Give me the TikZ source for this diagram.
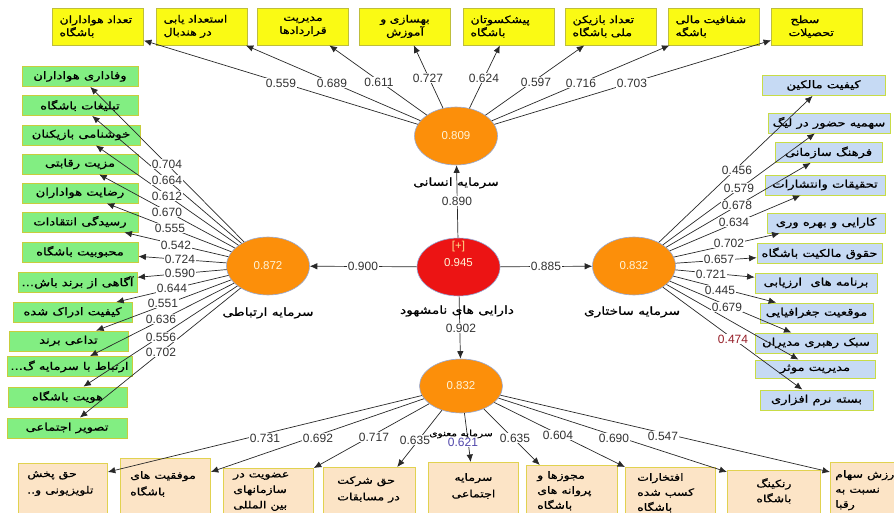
\documentclass[tikz,border=0pt]{standalone}
\usepackage{fontspec}
\setmainfont{Liberation Sans}
\newfontfamily\fa[Script=Arabic,FakeStretch=1.25,FakeBold=0.8]{DejaVu Sans}
\TeXXeTstate=1
\usetikzlibrary{arrows.meta,calc,shapes.geometric}
\newcommand\fatx[1]{\beginR #1\endR}
\definecolor{yfill}{RGB}{250,250,20}
\definecolor{yline}{RGB}{190,190,60}
\definecolor{gfill}{RGB}{130,238,130}
\definecolor{gline}{RGB}{200,205,60}
\definecolor{bfill}{RGB}{198,218,244}
\definecolor{bline}{RGB}{200,220,70}
\definecolor{pfill}{RGB}{252,228,198}
\definecolor{pline}{RGB}{225,210,80}
\definecolor{orng}{RGB}{252,143,10}
\definecolor{redd}{RGB}{236,20,20}
\definecolor{eline}{RGB}{150,170,215}
\definecolor{lcol}{RGB}{40,40,40}
\definecolor{numc}{RGB}{50,50,50}
\definecolor{evt}{RGB}{255,244,215}
\definecolor{plus}{RGB}{255,225,140}
\definecolor{blu}{RGB}{80,70,170}
\definecolor{dred}{RGB}{150,30,40}
\begin{document}
\begin{tikzpicture}[x=1pt,y=-1pt,
  yb/.style={draw=yline, fill=yfill, line width=0.8pt, minimum height=37pt,
    text width=77pt, inner xsep=7pt, inner ysep=0pt, align=left,
    font=\fa\fontsize{10}{13}\selectfont},
  gb/.style={draw=gline, fill=gfill, line width=0.8pt, minimum height=20pt,
    inner sep=0pt, font=\fa\fontsize{10.5}{11}\selectfont},
  bb/.style={draw=bline, fill=bfill, line width=0.8pt, minimum height=20pt,
    inner sep=0pt, font=\fa\fontsize{10.5}{11}\selectfont},
  pb/.style={draw=pline, fill=pfill, line width=0.8pt, minimum width=90pt,
    minimum height=75pt, anchor=north west, inner sep=0pt},
  ptx/.style={font=\fa\fontsize{10}{16.5}\selectfont, inner sep=0pt,
    align=left, anchor=north west},
  lv/.style={ellipse, draw=eline, line width=0.6pt, fill=orng,
    minimum width=83pt, minimum height=58pt, inner sep=0pt, text=evt,
    font=\fontsize{11.5}{13}\selectfont},
  ltx/.style={inner sep=0pt, font=\fontsize{11.5}{13}\selectfont},
  conn/.style={draw=lcol, line width=0.7pt, -{Latex[length=7.5pt,width=6.5pt]}},
  num/.style={fill=white, inner sep=0.6pt, text=numc,
    font=\fontsize{12}{13}\selectfont},
  capt/.style={font=\fa\fontsize{11}{12}\selectfont, inner sep=0pt}]
\useasboundingbox (0,0) rectangle (894,513);
\clip (0,0) rectangle (894,513);

% ---------- top indicators
\node[yb] (t1) at (98,26.5) {\fatx{تعداد هواداران}\\\fatx{باشگاه}};
\node[yb] (t2) at (202,26.5) {\fatx{استعداد یابی}\\\fatx{در هندبال}};
\node[yb,align=center] (t3) at (303,26.5) {\fatx{مدیریت}\\\fatx{قراردادها}};
\node[yb,align=center] (t4) at (405,26.5) {\fatx{بهسازی و}\\\fatx{آموزش}};
\node[yb] (t5) at (509,26.5) {\fatx{پیشکسوتان}\\\fatx{باشگاه}};
\node[yb] (t6) at (611,26.5) {\fatx{تعداد بازیکن}\\\fatx{ملی باشگاه}};
\node[yb] (t7) at (714,26.5) {\fatx{شفافیت مالی}\\\fatx{باشگه}};
\node[yb] (t8) at (817,26.5) {\hspace*{12pt}\fatx{سطح}\\\hspace*{10pt}\fatx{تحصیلات}};

% ---------- left indicators
\node[gb,minimum width=116pt] (g1) at (80,76.5) {\fatx{وفاداری هواداران}};
\node[gb,minimum width=116pt] (g2) at (80,105.5) {\fatx{تبلیغات باشگاه}};
\node[gb,minimum width=118pt] (g3) at (81,135) {\fatx{خوشنامی بازیکنان}};
\node[gb,minimum width=116pt] (g4) at (80,164) {\fatx{مزیت رقابتی}};
\node[gb,minimum width=116pt] (g5) at (80,193) {\fatx{رضایت هواداران}};
\node[gb,minimum width=116pt] (g6) at (80,222) {\fatx{رسیدگی انتقادات}};
\node[gb,minimum width=116pt] (g7) at (80,252) {\fatx{محبوبیت باشگاه}};
\node[gb,minimum width=119pt] (g8) at (77.5,282.5) {...\fatx{آگاهی از برند باش}};
\node[gb,minimum width=119pt] (g9) at (72.5,312.5) {\fatx{کیفیت ادراک شده}};
\node[gb,minimum width=119pt] (g10) at (68.5,341) {\fatx{تداعی برند}};
\node[gb,minimum width=125pt] (g11) at (69.5,366.5) {...\fatx{ارتباط با سرمایه گ}};
\node[gb,minimum width=119pt] (g12) at (67.5,397) {\fatx{هویت باشگاه}};
\node[gb,minimum width=120pt] (g13) at (67,428) {\fatx{تصویر اجتماعی}};

% ---------- right indicators
\node[bb,minimum width=123pt] (b1) at (823.5,85.5) {\fatx{کیفیت مالکین}};
\node[bb,minimum width=122pt] (b2) at (829,123) {\fatx{سهمیه حضور در لیگ}};
\node[bb,minimum width=107pt] (b3) at (828.5,152.5) {\fatx{فرهنگ سازمانی}};
\node[bb,minimum width=120pt] (b4) at (825,185) {\fatx{تحقیقات وانتشارات}};
\node[bb,minimum width=118pt] (b5) at (826,223) {\fatx{کارایی و بهره وری}};
\node[bb,minimum width=125pt] (b6) at (819.5,253.5) {\fatx{حقوق مالکیت باشگاه}};
\node[bb,minimum width=122pt] (b7) at (816,283) {\fatx{برنامه های\ \ ارزیابی}};
\node[bb,minimum width=113pt] (b8) at (816.5,313) {\fatx{موقعیت جغرافیایی}};
\node[bb,minimum width=122pt] (b9) at (816,343) {\fatx{سبک رهبری مدیران}};
\node[bb,minimum width=120pt,minimum height=18pt] (b10) at (815,369) {\fatx{مدیریت موثر}};
\node[bb,minimum width=113pt] (b11) at (816.5,400) {\fatx{بسته نرم افزاری}};

% ---------- bottom indicators
\node[pb,minimum width=89pt] (p1) at (18,463) {};
\node[pb] (p2) at (120,458) {};
\node[pb] (p3) at (223,468) {};
\node[pb,minimum width=92pt] (p4) at (323,467) {};
\node[pb] (p5) at (428,462) {};
\node[pb,minimum width=91pt] (p6) at (526,465) {};
\node[pb] (p7) at (625,467) {};
\node[pb,minimum width=93pt] (p8) at (727,470) {};
\node[pb] (p9) at (830,462) {};
\node[ptx] (p1t) at ($(p1.north west)+(9,8)$) {\fatx{حق پخش}\\..\fatx{تلویزیونی و}};
\node[ptx] (p2t) at ($(p2.north west)+(10,13)$) {\fatx{موفقیت های}\\\fatx{باشگاه}};
\node[ptx,font=\fa\fontsize{10}{15.5}\selectfont] (p3t) at ($(p3.north west)+(10,4)$) {\fatx{عضویت در}\\\fatx{سازمانهای}\\\fatx{بین المللی}};
\node[ptx] (p4t) at ($(p4.north west)+(14,9)$) {\fatx{حق شرکت}\\\fatx{در مسابقات}};
\node[ptx,anchor=north,align=center] (p5t) at ($(p5.north)+(0,11)$) {\fatx{سرمایه}\\\fatx{اجتماعی}};
\node[ptx,font=\fa\fontsize{10}{15}\selectfont] (p6t) at ($(p6.north west)+(11,6)$) {\fatx{مجوزها و}\\\fatx{پروانه های}\\\fatx{باشگاه}};
\node[ptx,font=\fa\fontsize{10}{15}\selectfont] (p7t) at ($(p7.north west)+(12,6)$) {\fatx{افتخارات}\\\fatx{کسب شده}\\\fatx{باشگاه}};
\node[ptx,anchor=north,align=center,font=\fa\fontsize{10}{15}\selectfont] (p8t) at ($(p8.north)+(0,8)$) {\fatx{رنکینگ}\\\fatx{باشگاه}};
\node[ptx,font=\fa\fontsize{10}{15}\selectfont] (p9t) at ($(p9.north west)+(5,8)$) {\fatx{رزش سهام}\\\fatx{نسبت به}\\\fatx{رقبا}};

% ---------- latent variables
\node[lv] (T) at (456,136) {0.809};
\node[lv] (L) at (268,266) {0.872};
\node[lv] (R) at (634,266) {0.832};
\node[lv,minimum height=54pt] (B) at (461,386) {0.832};
\node[lv,fill=redd] (C) at (458.5,267) {};
\node[ltx,text=plus] (Cp) at ($(C)+(0,-20)$) {[+]};
\node[ltx,text=evt] (Cv) at ($(C)+(0,-4)$) {0.945};

% ---------- structural paths
\draw[conn] (C) -- (T);
\draw[conn] (C) -- (L);
\draw[conn] (C) -- (R);
\draw[conn] (C) -- (B);

% ---------- outer loadings
\foreach \i in {1,...,8} \draw[conn] (T) -- (t\i);
\foreach \i in {1,...,13} \draw[conn] (L) -- (g\i);
\foreach \i in {1,...,11} \draw[conn] (R) -- (b\i);
\draw[conn] (B) -- ($(p1.north east)+(0,9)$);
\draw[conn] (B) -- ($(p2.north east)+(0,14)$);
\draw[conn] (B) -- (p3.north east);
\draw[conn] (B) -- ($(p4.north west)!0.8!(p4.north east)$);
\draw[conn] (B) -- ($(p5.north west)!0.47!(p5.north east)$);
\draw[conn] (B) -- ($(p6.north west)!0.15!(p6.north east)$);
\draw[conn] (B) -- (p7.north west);
\draw[conn] (B) -- ($(p8.north west)+(0,2)$);
\draw[conn] (B) -- ($(p9.north west)+(0,10)$);

% ---------- path labels
\node[num] (n1) at (457,201) {0.890};
\node[num] (n2) at (363,266) {0.900};
\node[num] (n3) at (546,266) {0.885};
\node[num] (n4) at (461,328) {0.902};

% top
\node[num] (a1) at (281,83) {0.559};
\node[num] (a2) at (332,83) {0.689};
\node[num] (a3) at (379,82) {0.611};
\node[num] (a4) at (428,78) {0.727};
\node[num] (a5) at (484,78) {0.624};
\node[num] (a6) at (536,82) {0.597};
\node[num] (a7) at (581,83) {0.716};
\node[num] (a8) at (632,83) {0.703};
% left
\node[num] (l1) at (167,164) {0.704};
\node[num] (l2) at (167,180) {0.664};
\node[num] (l3) at (167,196) {0.612};
\node[num] (l4) at (167,212) {0.670};
\node[num] (l5) at (170,228) {0.555};
\node[num] (l6) at (176,245) {0.542};
\node[num] (l7) at (180,259) {0.724};
\node[num] (l8) at (180,273) {0.590};
\node[num] (l9) at (172,288) {0.644};
\node[num] (l10) at (163,303) {0.551};
\node[num] (l11) at (161,319) {0.636};
\node[num] (l12) at (161,337) {0.556};
\node[num] (l13) at (161,352) {0.702};
% right
\node[num] (r1) at (737,170) {0.456};
\node[num] (r2) at (739,188) {0.579};
\node[num] (r3) at (737,205) {0.678};
\node[num] (r4) at (734,222) {0.634};
\node[num] (r5) at (729,243) {0.702};
\node[num] (r6) at (719,259) {0.657};
\node[num] (r7) at (711,274) {0.721};
\node[num] (r8) at (720,290) {0.445};
\node[num] (r9) at (727,307) {0.679};
\node[num,text=dred] (r11) at (733,339) {0.474};
% bottom
\node[num] (d1) at (265,438) {0.731};
\node[num] (d2) at (318,438) {0.692};
\node[num] (d3) at (374,437) {0.717};
\node[num] (d4) at (415,440) {0.635};
\node[num,text=blu] (d5) at (463,442) {0.621};
\node[num] (d6) at (515,438) {0.635};
\node[num] (d7) at (558,435) {0.604};
\node[num] (d8) at (614,438) {0.690};
\node[num] (d9) at (663,436) {0.547};

% ---------- latent names
\node[capt] (cT) at (456,183) {\fatx{سرمایه انسانی}};
\node[capt] (cL) at (268,313) {\fatx{سرمایه ارتباطی}};
\node[capt] (cC) at (457,311) {\fatx{دارایی های نامشهود}};
\node[capt] (cR) at (632,312) {\fatx{سرمایه ساختاری}};
\node[capt,font=\fa\fontsize{8.5}{9}\selectfont] (cB) at (461,434) {\fatx{سرمایه معنوی}};
\end{tikzpicture}
\end{document}
